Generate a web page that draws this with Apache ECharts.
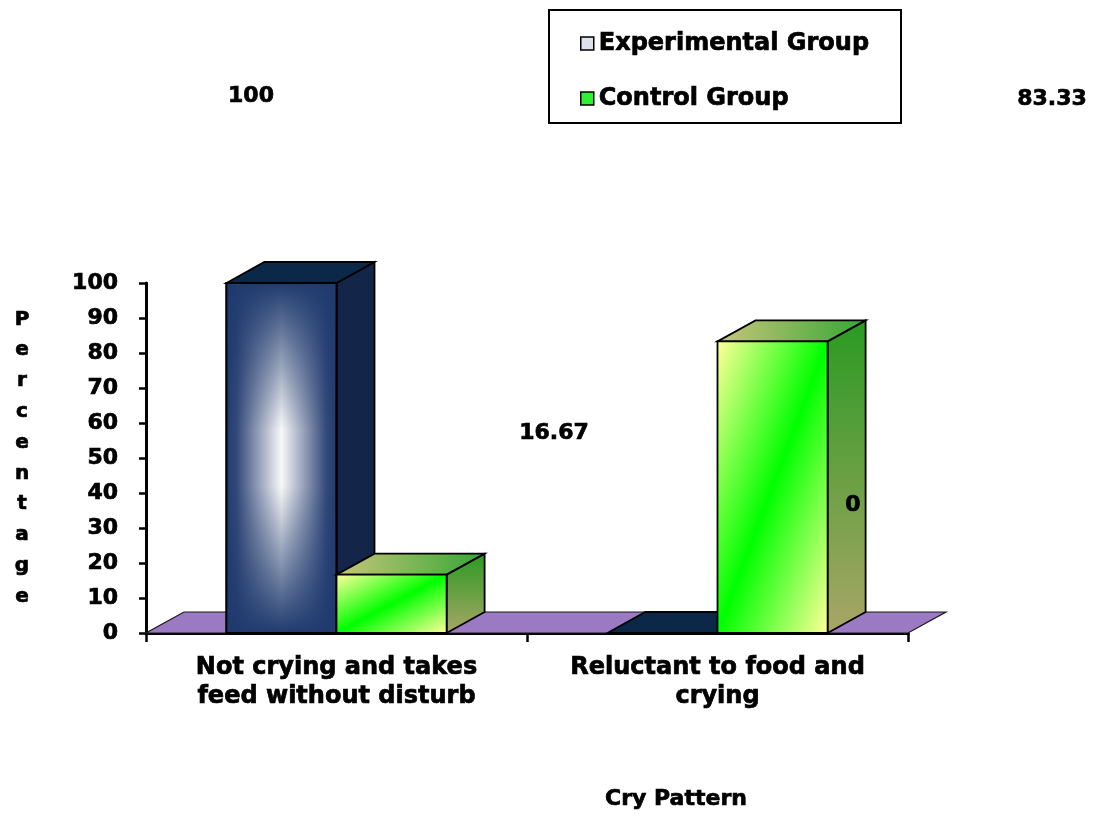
<!DOCTYPE html>
<html>
<head>
<meta charset="utf-8">
<script src="https://cdn.jsdelivr.net/npm/echarts@6/dist/echarts.min.js"></script>
<style>
  html,body{margin:0;padding:0;background:#fff;}
  #chart{width:1099px;height:825px;}
</style>
</head>
<body>
<div id="chart"></div>
<script>
// ---- data ----
const categories = ['Not crying and takes\nfeed without disturb', 'Reluctant to food and\ncrying'];
const experimental = [100, 0];
const control = [16.67, 83.33];
const yTicks = [0, 10, 20, 30, 40, 50, 60, 70, 80, 90, 100];

const FONT = 'DejaVu Sans';
const DX = 38, DY = -21;   // 3D depth offset
const BAR_FRAC = 0.289;    // bar width as part of band
const heavy = { textBorderColor:'#000', textBorderWidth:0.7 };

function fmt(v){ return String(v); }

// ---- 3D box drawing ----
function box(api, side, faces){
  const x = api.value(0), v = api.value(1);
  const band = api.size([1, 0])[0];
  const bw = band * BAR_FRAC;
  const t = api.coord([x, v]);
  const b = api.coord([x, 0]);
  const left = side === 0 ? t[0] - bw : t[0];
  const top = t[1], bottom = b[1], h = bottom - top;
  const stroke = { stroke:'#000', lineWidth:1.8 };
  const kids = [];
  kids.push({ type:'polygon', shape:{ points:[[left+bw,top],[left+bw+DX,top+DY],[left+bw+DX,bottom+DY],[left+bw,bottom]] },
    style:Object.assign({ fill:faces.side(h) }, stroke) });
  kids.push({ type:'polygon', shape:{ points:[[left,top],[left+bw,top],[left+bw+DX,top+DY],[left+DX,top+DY]] },
    style:Object.assign({ fill:faces.top }, stroke) });
  if (h > 0.5){
    kids.push({ type:'rect', shape:{ x:left, y:top, width:bw, height:h },
      style:Object.assign({ fill:faces.front(left, top, bw, h) }, stroke) });
    if (faces.overlay) kids.push({ type:'rect', shape:{ x:left, y:top, width:bw, height:h },
      style:Object.assign({ fill:faces.overlay }, stroke) });
  }
  return { type:'group', children:kids };
}

const expFaces = {
  top:'#0c2849',
  side:()=>'#14254a',
  front:()=>new echarts.graphic.LinearGradient(0,0,1,0,[
    {offset:0,color:'#1f3a6e'},{offset:0.1,color:'#34497a'},{offset:0.5,color:'#f8f8f8'},
    {offset:0.9,color:'#34497a'},{offset:1,color:'#1f3a6e'}]),
  overlay:new echarts.graphic.LinearGradient(0,0,0,1,[
    {offset:0,color:'rgba(31,58,110,1)'},{offset:0.42,color:'rgba(31,58,110,0)'},
    {offset:0.58,color:'rgba(31,58,110,0)'},{offset:1,color:'rgba(31,58,110,1)'}])
};
const ctlFaces = {
  top:new echarts.graphic.LinearGradient(0,0,1,0,[
    {offset:0,color:'#c8c67a'},{offset:1,color:'#36a636'}]),
  side:()=>new echarts.graphic.LinearGradient(0,0,0,1,[
    {offset:0,color:'#2a9a22'},{offset:1,color:'#a9a666'}]),
  front:(l,t,w,h)=>{
    const L = Math.sqrt(w*w + h*h), cx = l + w/2, cy = t + h/2;
    const ux = h / L, uy = w / L, r = w * h / L;
    return new echarts.graphic.LinearGradient(cx-ux*r, cy-uy*r, cx+ux*r, cy+uy*r, [
      {offset:0,color:'#ffff99'},{offset:0.5,color:'#00ff00'},{offset:1,color:'#ffff99'}], true);
  }
};

function label(x, y, v, size){
  return { type:'text', x, y, z:10, style:Object.assign({ text:fmt(v), align:'center', verticalAlign:'middle',
    font:'bold ' + size + 'px "DejaVu Sans"', fill:'#000', stroke:'#000', lineWidth:0.7 }) };
}

const chart = echarts.init(document.getElementById('chart'));
chart.setOption({
  backgroundColor:'#fff',
  animation:false,
  grid:{ left:146, right:191, top:283, bottom:192 },
  xAxis:{
    type:'category', data:categories,
    axisLine:{ lineStyle:{ color:'#000', width:3 } },
    axisTick:{ show:true, length:9, lineStyle:{ color:'#000', width:2.5 } },
    axisLabel:Object.assign({ color:'#000', fontFamily:FONT, fontWeight:'bold', fontSize:24, lineHeight:29, margin:20, interval:0 }, heavy),
    name:'Cry Pattern', nameLocation:'middle', nameGap:155,
    nameTextStyle:Object.assign({ color:'#000', fontFamily:FONT, fontWeight:'bold', fontSize:22, padding:[0,0,0,298] }, heavy)
  },
  yAxis:{
    type:'value', min:yTicks[0], max:yTicks[yTicks.length-1], interval:yTicks[1]-yTicks[0],
    axisLine:{ show:true, lineStyle:{ color:'#000', width:3 } },
    axisTick:{ show:true, length:7, lineStyle:{ color:'#000', width:2.5 } },
    axisLabel:Object.assign({ color:'#000', fontFamily:FONT, fontWeight:'bold', fontSize:22, margin:28 }, heavy),
    splitLine:{ show:false },
    name:'Percentage'.split('').join('\n'), nameLocation:'middle', nameRotate:0, nameGap:124,
    nameTextStyle:Object.assign({ color:'#000', fontFamily:FONT, fontWeight:'bold', fontSize:20, lineHeight:30.8, align:'center', padding:[0,0,13,0] }, heavy)
  },
  legend:{
    left:575, top:26, orient:'vertical', itemGap:30, itemWidth:13, itemHeight:13, icon:'rect',
    textStyle:Object.assign({ color:'#000', fontFamily:FONT, fontWeight:'bold', fontSize:24, lineHeight:25 }, heavy),
    data:[
      { name:'Experimental Group', itemStyle:{ color:'#dde1ec', borderColor:'#000', borderWidth:1.5 } },
      { name:'Control Group', itemStyle:{ color:'#33ee33', borderColor:'#000', borderWidth:1.5 } }
    ]
  },
  graphic:[
    { type:'rect', left:548, top:9, z:0, shape:{ width:352, height:113 }, style:{ fill:'#fff', stroke:'#000', lineWidth:2 } },
    label(251, 96, experimental[0], 22),
    label(1052, 99, control[1], 22),
    label(554, 433, control[0], 22),
    label(853, 505, experimental[1], 22)
  ],
  series:[
    {
      name:'floor', type:'custom', data:[[0, 0]], silent:true,
      renderItem:(params)=>{
        const r = params.coordSys, y = r.y + r.height;
        return { type:'polygon', shape:{ points:[[r.x,y],[r.x+r.width,y],[r.x+r.width+DX,y+DY],[r.x+DX,y+DY]] },
          style:{ fill:'#9b79c3', stroke:'#1a1a1a', lineWidth:1.2 } };
      }
    },
    {
      name:'Experimental Group', type:'custom', itemStyle:{ color:'#dde1ec' },
      data:experimental.map((v,i)=>[i, v]),
      renderItem:(params, api)=>box(api, 0, expFaces)
    },
    {
      name:'Control Group', type:'custom', itemStyle:{ color:'#33ee33' },
      data:control.map((v,i)=>[i, v]),
      renderItem:(params, api)=>box(api, 1, ctlFaces)
    }
  ]
});
</script>
</body>
</html>
